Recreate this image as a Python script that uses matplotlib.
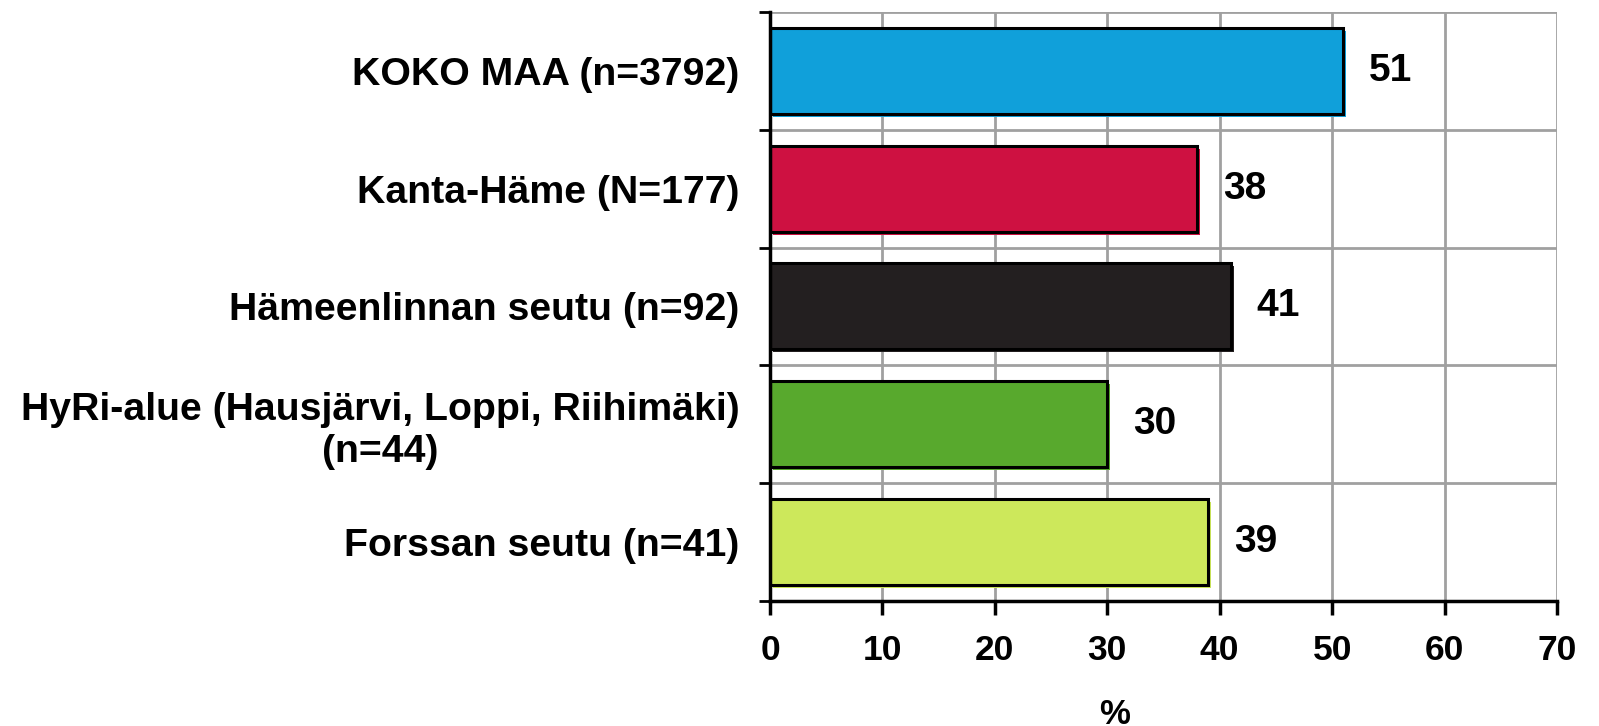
import numpy as np
import matplotlib
matplotlib.use('Agg')
import matplotlib.pyplot as plt
import matplotlib.transforms as mtransforms

# Chart data
categories = ['KOKO MAA (n=3792)',
              'Kanta-Häme (N=177)',
              'Hämeenlinnan seutu (n=92)',
              'HyRi-alue (Hausjärvi, Loppi, Riihimäki)\n(n=44)',
              'Forssan seutu (n=41)']
values = [51, 38, 41, 30, 39]
bar_colors = ['#10A0DA', '#CE1141', '#231F20', '#58A92D', '#CDE85B']
x_ticks = [0, 10, 20, 30, 40, 50, 60, 70]
x_label = '%'

plt.rcParams['font.family'] = ['Liberation Sans', 'DejaVu Sans']
plt.rcParams['font.weight'] = 'bold'

fig = plt.figure(figsize=(15.99, 7.26), dpi=100)
ax = fig.add_axes([0.4816, 0.1722, 0.9737 - 0.4816, 0.9835 - 0.1722])

y = np.arange(len(categories))

# colored shadow slightly offset right/down, then the black-edged bar on top
shadow = mtransforms.offset_copy(ax.transData, fig=fig, x=3, y=-3, units='dots')
ax.barh(y, values, height=0.73, color=bar_colors, edgecolor='none',
        transform=shadow, zorder=2)
ax.barh(y, values, height=0.73, color=bar_colors, edgecolor='black',
        linewidth=2.2, zorder=3)

# value labels
for yi, v in zip(y, values):
    ax.text(v + 2.3, yi, str(v), va='center', ha='left', fontsize=28,
            fontweight='bold', zorder=4)

ax.set_xlim(0, 70)
ax.set_ylim(len(categories) - 0.5, -0.5)
ax.set_xticks(x_ticks)
ax.set_xticklabels([str(t) for t in x_ticks], fontsize=25.5, fontweight='bold')
ax.set_yticks(y)
ax.set_yticklabels(categories, fontsize=28.3, fontweight='bold', multialignment='center')
ax.set_yticks(np.arange(len(categories) + 1) - 0.5, minor=True)

ax.tick_params(axis='y', which='major', length=0, pad=22)
ax.tick_params(axis='y', which='minor', length=8, width=2, direction='out')
ax.tick_params(axis='x', which='major', length=10, width=2.5, direction='out', pad=14)

ax.grid(axis='x', which='major', color='#A0A0A0', linewidth=2, zorder=0)
ax.grid(axis='y', which='minor', color='#A0A0A0', linewidth=2, zorder=0)
ax.set_axisbelow(True)

for side in ['top', 'right']:
    ax.spines[side].set_visible(False)
for side in ['left', 'bottom']:
    ax.spines[side].set_linewidth(2.5)
    ax.spines[side].set_zorder(5)

ax.set_xlabel(x_label, fontsize=25, fontweight='bold')
ax.xaxis.set_label_coords(0.438, -0.165)

fig.savefig('out.png', dpi=100)
